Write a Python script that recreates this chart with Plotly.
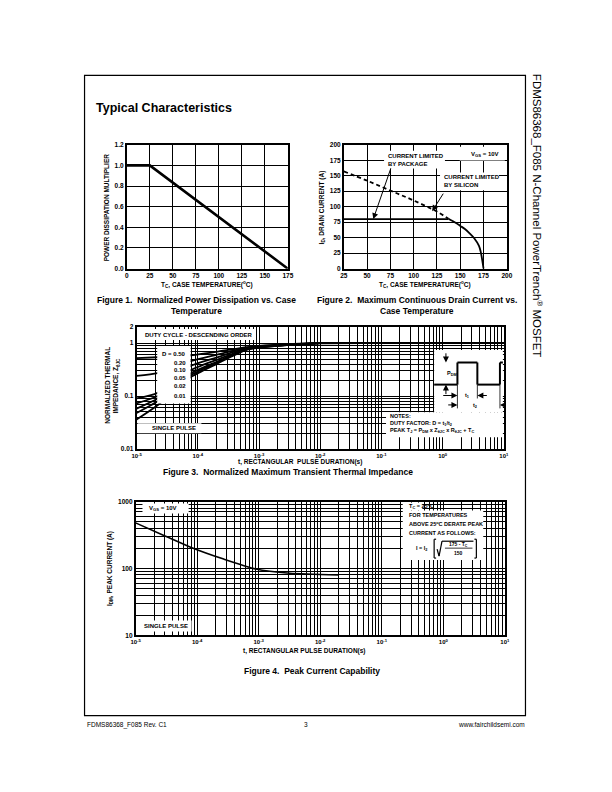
import plotly.graph_objects as go

W, H = 612, 792
FONT = 'Liberation Sans'

# ---------------- data ----------------
# Figure 1 - power dissipation multiplier
pd_temp = [0, 25, 175]
pd_mult = [1.0, 1.0, 0.0]

# Figure 2 - drain current vs case temperature
si_temp_dash = [25, 50, 75, 100, 125, 137]
si_curr_dash = [157, 142, 126, 110, 92, 81]
si_temp = [137, 145, 150, 155, 160, 165, 170, 172, 175]
si_curr = [81, 74, 69, 64, 57, 49, 37, 27, 0]
pkg_temp = [25, 137]
pkg_curr = [80, 80]

# Figure 3 - transient thermal impedance
zt_time = [1e-5, 2.2e-5, 7.3e-5, 2e-4, 6.4e-4, 2e-3, 1e-2, 1e-1, 1, 10]
zt_d050 = [0.52, 0.54, 0.58, 0.68, 0.84, 0.93, 1.0, 1.0, 1.0, 1.0]
zt_d020 = [0.24, 0.27, 0.45, 0.60, 0.82, 0.92, 1.0, 1.0, 1.0, 1.0]
zt_d010 = [0.090, 0.115, 0.36, 0.53, 0.80, 0.91, 1.0, 1.0, 1.0, 1.0]
zt_d005 = [0.073, 0.100, 0.30, 0.48, 0.78, 0.90, 1.0, 1.0, 1.0, 1.0]
zt_d002 = [0.058, 0.090, 0.26, 0.44, 0.77, 0.90, 1.0, 1.0, 1.0, 1.0]
zt_d001 = [0.048, 0.080, 0.24, 0.42, 0.76, 0.89, 1.0, 1.0, 1.0, 1.0]
zt_single = [0.036, 0.067, 0.22, 0.40, 0.75, 0.89, 0.99, 1.0, 1.0, 1.0]
duty_labels = ['D = 0.50', '0.20', '0.10', '0.05', '0.02', '0.01']

# Figure 4 - peak current capability
pk_time = [1e-5, 3e-5, 8e-5, 2.7e-4, 9e-4, 3.2e-3, 2e-2]
pk_curr = [480, 306, 206, 138, 98, 85, 80]

# tick values
f1_xticks = [0, 25, 50, 75, 100, 125, 150, 175]
f1_yticks = [0.0, 0.2, 0.4, 0.6, 0.8, 1.0, 1.2]
f2_xticks = [25, 50, 75, 100, 125, 150, 175, 200]
f2_yticks = [0, 25, 50, 75, 100, 125, 150, 175, 200]
log_decades = [-5, -4, -3, -2, -1, 0]


def px(x):
    return x / W


def py(y):
    return 1 - y / H


def log_grid(exps, top):
    vals, text = [], []
    for e in exps:
        for m in range(1, 10):
            vals.append(m * 10 ** e)
            text.append('')
    vals.append(top)
    text.append('')
    return vals, text


tick_font = dict(family=FONT, size=6.5, color='black', weight='bold')


def axis(domain, **kw):
    d = dict(domain=domain, showgrid=True, gridcolor='black', gridwidth=1,
             showline=True, linecolor='black', linewidth=1.6, mirror=True,
             zeroline=False, ticks='', tickfont=tick_font, fixedrange=True)
    d.update(kw)
    return d


fig = go.Figure()

line_kw = dict(hoverinfo='skip', showlegend=False)

# Figure 1
fig.add_trace(go.Scatter(x=pd_temp, y=pd_mult, mode='lines', xaxis='x', yaxis='y',
                         line=dict(color='black', width=2.6), **line_kw))

# Figure 2
fig.add_trace(go.Scatter(x=si_temp_dash, y=si_curr_dash, mode='lines', xaxis='x2', yaxis='y2',
                         line=dict(color='black', width=1.8, dash='4px,3px', shape='spline'), **line_kw))
fig.add_trace(go.Scatter(x=si_temp, y=si_curr, mode='lines', xaxis='x2', yaxis='y2',
                         line=dict(color='black', width=1.8, shape='spline'), **line_kw))
fig.add_trace(go.Scatter(x=pkg_temp, y=pkg_curr, mode='lines', xaxis='x2', yaxis='y2',
                         line=dict(color='black', width=1.8), **line_kw))

# Figure 3
for z in [zt_d050, zt_d020, zt_d010, zt_d005, zt_d002, zt_d001, zt_single]:
    fig.add_trace(go.Scatter(x=zt_time, y=z, mode='lines', xaxis='x3', yaxis='y3',
                             line=dict(color='black', width=1.8, shape='spline', smoothing=0.6),
                             **line_kw))

# Figure 4
fig.add_trace(go.Scatter(x=pk_time, y=pk_curr, mode='lines', xaxis='x4', yaxis='y4',
                         line=dict(color='black', width=1.6, shape='spline', smoothing=0.6),
                         **line_kw))

# ---------------- axes ----------------
x_log_vals, x_log_text = log_grid(log_decades, 10)
for i, e in enumerate(log_decades):
    x_log_text[i * 9] = f'10<sup>{e}</sup>'
x_log_text[-1] = '10<sup>1</sup>'

y3_vals, y3_text = log_grid([-2, -1], 1)
y3_vals.append(2)
y3_text.append('2')
y3_text[0] = '0.01'
y3_text[9] = '0.1'
y3_text[18] = '1'

y4_vals, y4_text = log_grid([1, 2], 1000)
y4_text[0] = '10'
y4_text[9] = '100'
y4_text[18] = '1000'

fig.update_layout(
    xaxis=axis([px(124), px(288)], range=[0, 175], tickvals=f1_xticks, anchor='y'),
    yaxis=axis([py(267), py(142)], range=[0, 1.2], tickvals=f1_yticks, tickformat='.1f', anchor='x'),
    xaxis2=axis([px(345), px(511)], range=[25, 200], tickvals=f2_xticks, anchor='y2'),
    yaxis2=axis([py(267), py(142)], range=[0, 200], tickvals=f2_yticks, anchor='x2'),
    xaxis3=axis([px(134), px(508)], type='log', range=[-5, 1], tickvals=x_log_vals,
                ticktext=x_log_text, anchor='y3', tickfont=dict(tick_font, size=6)),
    yaxis3=axis([py(449), py(326)], type='log', range=[-2, 0.30103], tickvals=y3_vals,
                ticktext=y3_text, anchor='x3'),
    xaxis4=axis([px(133), px(509)], type='log', range=[-5, 1], tickvals=x_log_vals,
                ticktext=x_log_text, anchor='y4', tickfont=dict(tick_font, size=6)),
    yaxis4=axis([py(637), py(502)], type='log', range=[1, 3], tickvals=y4_vals,
                ticktext=y4_text, anchor='x4'),
)

# ---------------- decorations ----------------
shapes = []
ann = []


def box(x0, y0, x1, y1):
    shapes.append(dict(type='rect', xref='paper', yref='paper', x0=px(x0), x1=px(x1),
                       y0=py(y1), y1=py(y0), fillcolor='white', line=dict(width=0), layer='above'))


def seg(x0, y0, x1, y1, w=1.2):
    shapes.append(dict(type='line', xref='paper', yref='paper', x0=px(x0), x1=px(x1),
                       y0=py(y0), y1=py(y1), line=dict(color='black', width=w), layer='above'))


def txt(s, x, y, size=6.5, xanchor='center', angle=0, bold=True, align='center'):
    ann.append(dict(text=s, x=px(x), y=py(y), xref='paper', yref='paper', showarrow=False,
                    xanchor=xanchor, yanchor='middle', textangle=angle, align=align,
                    font=dict(family=FONT, size=size, color='black',
                              weight='bold' if bold else 'normal')))


def arrow(x, y, x0, y0, w=1):
    ann.append(dict(text='', x=px(x), y=py(y), xref='paper', yref='paper', ax=x0 - x, ay=y0 - y,
                    showarrow=True, arrowhead=2, arrowsize=1.2, arrowwidth=w, arrowcolor='black'))


# page frame
shapes.append(dict(type='rect', xref='paper', yref='paper', x0=px(81), x1=px(530),
                   y0=py(718), y1=py(72), line=dict(color='black', width=1.2), layer='below'))

txt('Typical Characteristics', 91, 105, size=12.5, xanchor='left')
txt('FDMS86368_F085 N-Channel PowerTrench<sup>®</sup> MOSFET', 542, 214, size=11.5,
    angle=90, bold=False)

# footer
txt('FDMS86368_F085 Rev. C1', 81, 727, size=6.5, xanchor='left', bold=False)
txt('3', 306, 727, size=6.5, bold=False)
txt('www.fairchildsemi.com', 532, 727, size=6.5, xanchor='right', bold=False)

# Figure 1 labels
txt('POWER DISSIPATION MULTIPLIER', 103, 205, size=6.5, angle=-90)
txt('T<sub>C</sub>, CASE TEMPERATURE(<sup>o</sup>C)', 206, 283, size=6.5)
txt('Figure 1.  Normalized Power Dissipation vs. Case', 195, 299, size=8.5)
txt('Temperature', 195, 310, size=8.5)

# Figure 2 labels
txt('I<sub>D</sub>, DRAIN CURRENT (A)', 323, 205, size=6.5, angle=-90)
txt('T<sub>C</sub>, CASE TEMPERATURE(<sup>o</sup>C)', 428, 283, size=6.5)
txt('Figure 2.  Maximum Continuous Drain Current vs.', 420, 299, size=8.5)
txt('Case Temperature', 420, 310, size=8.5)
box(386, 148, 448, 166)
txt('CURRENT LIMITED<br>BY PACKAGE', 388, 157, size=6, xanchor='left', align='left')
box(463, 144, 509, 158)
txt('V<sub>GS</sub> = 10V', 472, 152, size=6, xanchor='left')
box(443, 170, 503, 188)
txt('CURRENT LIMITED<br>BY SILICON', 445, 179, size=6, xanchor='left', align='left')
arrow(375, 217, 393, 165)
arrow(435, 209, 447, 190)

# Figure 3 labels
txt('NORMALIZED THERMAL', 104, 385, size=6.5, angle=-90)
txt('IMPEDANCE, Z<sub>θJC</sub>', 113, 385, size=6.5, angle=-90)
txt('t, RECTANGULAR  PULSE DURATION(s)', 300, 462.5, size=6.5)
txt('Figure 3.  Normalized Maximum Transient Thermal Impedance', 288, 472.5, size=8.5)
box(137, 328, 255, 339)
txt('DUTY CYCLE - DESCENDING ORDER', 141, 333.5, size=6, xanchor='left')
box(155, 345, 189, 403)
for lbl, yy in zip(duty_labels, [353, 362, 369.5, 377, 385, 395]):
    txt(lbl, 186, yy, size=6, xanchor='right')
box(135, 423, 200, 433)
txt('SINGLE PULSE', 148, 428, size=6, xanchor='left')
box(437, 349, 507, 412)
box(388, 412, 507, 437)
txt('NOTES:<br>DUTY FACTOR: D = t<sub>1</sub>/t<sub>2</sub><br>'
    'PEAK T<sub>J</sub> = P<sub>DM</sub> x Z<sub>θJC</sub> x R<sub>θJC</sub> + T<sub>C</sub>',
    390, 423, size=5.5, xanchor='left', align='left')
# pulse waveform sketch
seg(437, 384, 460.7, 384, 2)
seg(460.7, 384, 460.7, 361.7, 2)
seg(460.7, 361.7, 481, 361.7, 2)
seg(481, 361.7, 481, 384, 2)
seg(481, 384, 504, 384, 2)
seg(504, 384, 504, 361.7, 2)
seg(504, 361.7, 507, 361.7, 2)
seg(460.7, 384, 460.7, 408, 0.8)
seg(481, 384, 481, 398, 0.8)
seg(504, 384, 504, 408, 0.8)
arrow(449, 361.7, 449, 351)
arrow(449, 384, 449, 395)
txt('P<sub>DM</sub>', 448, 373, size=5.5, xanchor='left')
arrow(460.7, 395, 445, 395)
arrow(481, 395, 492, 395)
txt('t<sub>1</sub>', 471, 395, size=5.5)
arrow(460.7, 404.5, 450, 404.5)
arrow(504, 404.5, 509, 404.5)
txt('t<sub>2</sub>', 479, 405.5, size=5.5)

# Figure 4 labels
txt('I<sub>DM</sub>, PEAK CURRENT (A)', 107, 570, size=6.5, angle=-90)
txt('t, RECTANGULAR PULSE DURATION(s)', 305, 653, size=6.5)
txt('Figure 4.  Peak Current Capability', 313, 673, size=8.5)
box(140, 504, 187, 514)
txt('V<sub>GS</sub> = 10V', 145, 509, size=6, xanchor='left')
box(135, 622, 190, 633)
txt('SINGLE PULSE', 140, 627.5, size=6, xanchor='left')
box(405, 503, 425, 511)
box(405, 511, 487, 561)
txt('T<sub>C</sub> = 25<sup>o</sup>C', 409, 507, size=5.5, xanchor='left')
txt('FOR TEMPERATURES', 409, 516, size=5.5, xanchor='left')
txt('ABOVE 25<sup>o</sup>C DERATE PEAK', 409, 525, size=5.5, xanchor='left')
txt('CURRENT AS FOLLOWS:', 409, 534, size=5.5, xanchor='left')
txt('I = I<sub>2</sub>', 416, 549, size=5.5, xanchor='left')
# bracket / sqrt sketch
seg(437, 540, 437, 559, 1.2)
seg(437, 540, 439, 540, 1.2)
seg(437, 559, 439, 559, 1.2)
seg(480, 540, 480, 559, 1.2)
seg(478, 540, 480, 540, 1.2)
seg(478, 559, 480, 559, 1.2)
seg(440, 550, 442, 557, 1.2)
seg(442, 557, 445, 542, 1.2)
seg(445, 542, 477, 542, 1.2)
seg(448, 549, 476, 549, 0.8)
txt('175 - T<sub>C</sub>', 462, 545, size=5)
txt('150', 462, 554, size=5)

fig.update_layout(
    width=W, height=H,
    margin=dict(l=0, r=0, t=0, b=0),
    paper_bgcolor='white', plot_bgcolor='white',
    showlegend=False,
    shapes=shapes, annotations=ann,
    font=dict(family=FONT, color='black'),
)

fig.write_html("out.html", config={'displayModeBar': False},
               post_script="document.body.style.margin='0';document.body.style.overflow='hidden';")
